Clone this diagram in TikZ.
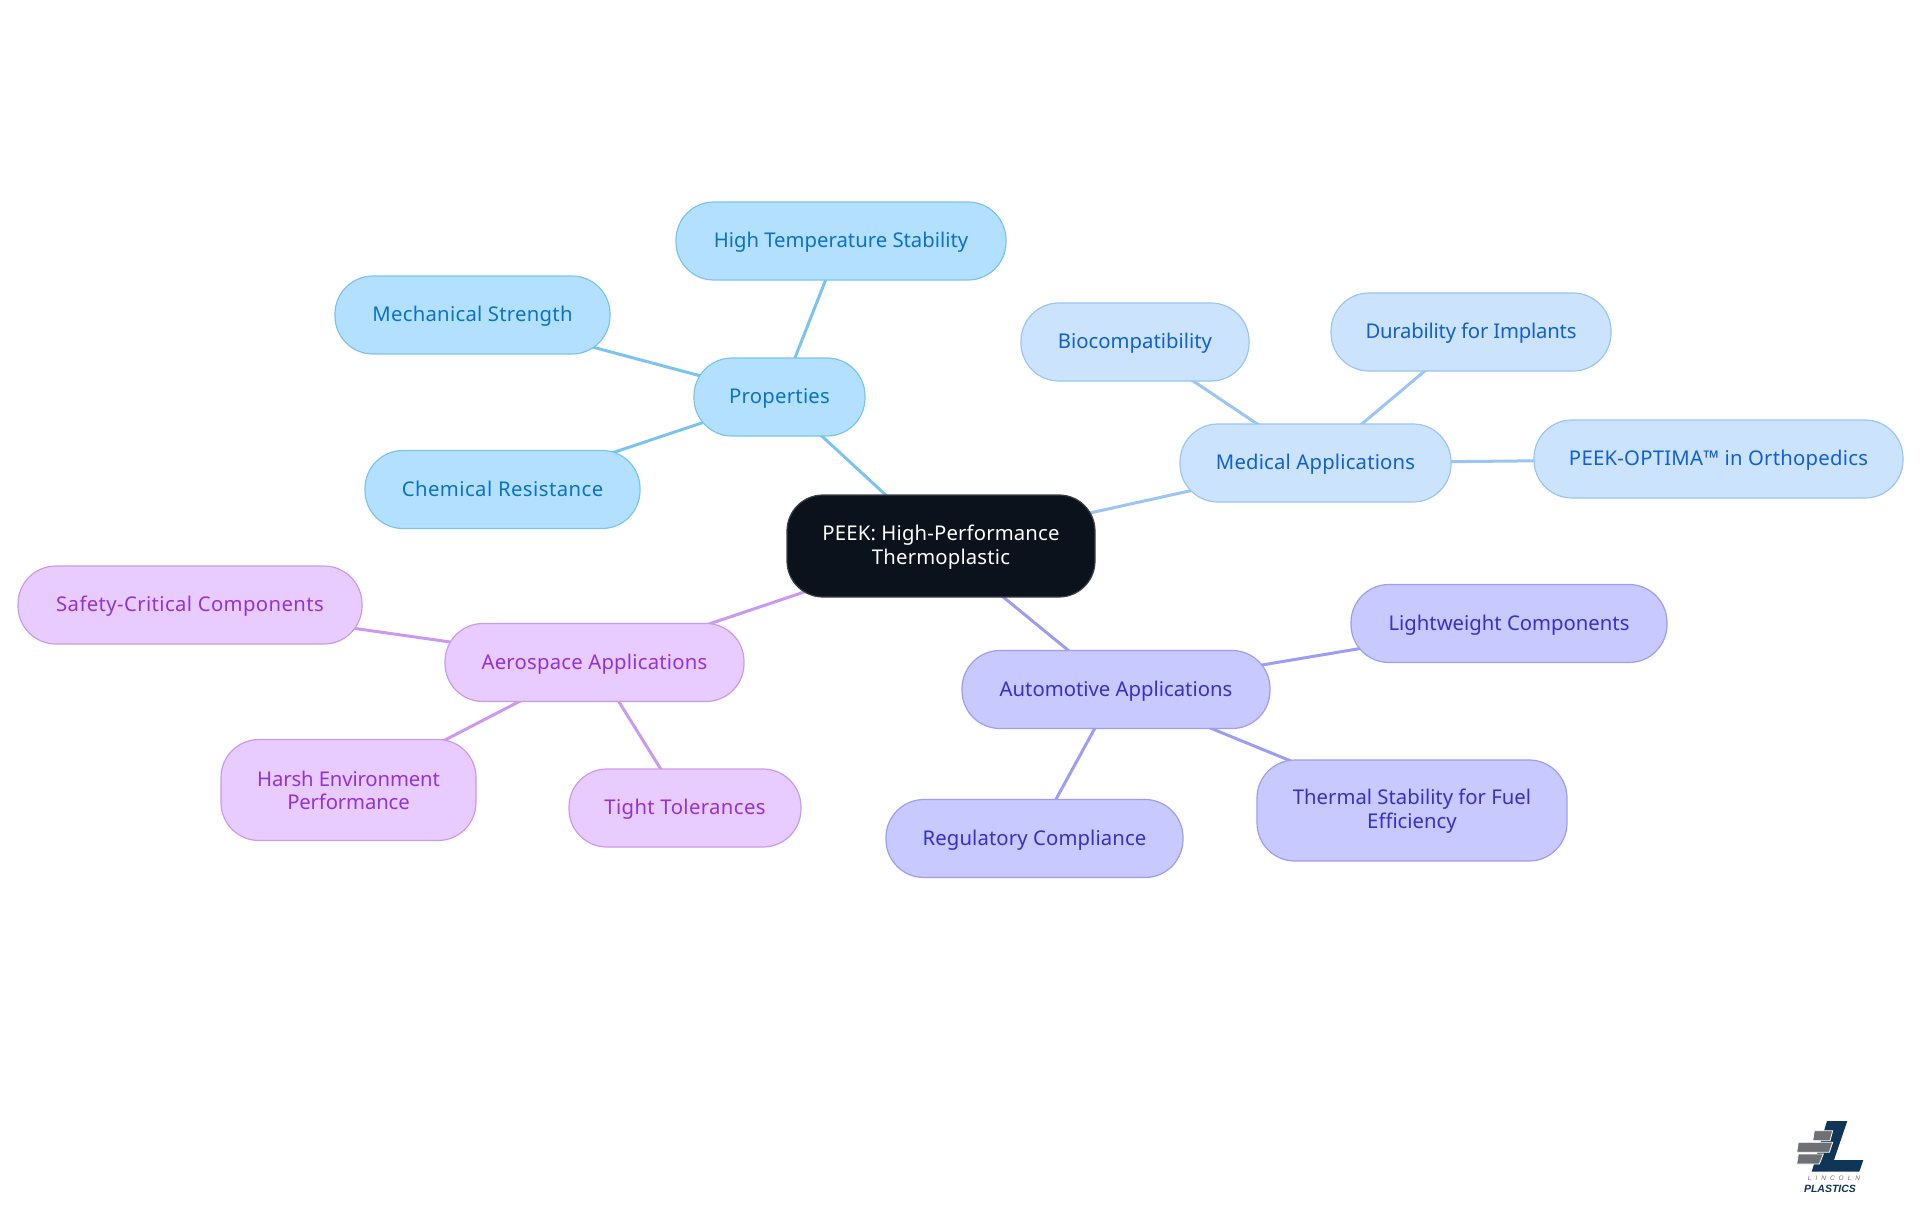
\documentclass[tikz,border=0pt]{standalone}
\usepackage{fontspec}
\setmainfont{Noto Sans}
\newfontfamily\logofont{Liberation Sans}
\usetikzlibrary{backgrounds}
\definecolor{rootfill}{HTML}{0B121B}
\definecolor{rootline}{HTML}{3A4048}
\definecolor{skyfill}{HTML}{B3E0FF}
\definecolor{skyline}{HTML}{7CC4F0}
\definecolor{skytext}{HTML}{0B72C4}
\definecolor{medfill}{HTML}{CCE3FD}
\definecolor{medline}{HTML}{9AC5F4}
\definecolor{medtext}{HTML}{1060D0}
\definecolor{autofill}{HTML}{C7C9FF}
\definecolor{autoline}{HTML}{9D9DF5}
\definecolor{autotext}{HTML}{3730C9}
\definecolor{aerofill}{HTML}{E8CBFF}
\definecolor{aeroline}{HTML}{CC99F0}
\definecolor{aerotext}{HTML}{9333D6}
\definecolor{logonavy}{HTML}{0F3557}
\definecolor{logogray}{HTML}{6E7074}
\newcommand{\firstln}[1]{\rule{0pt}{#1}}
\newcommand{\lsp}[2]{{\addfontfeature{LetterSpace=#1}#2}}
\tikzset{
  x=1pt,y=-1pt,
  mm/.style={rounded corners=38pt,inner sep=0pt,line width=1.2pt,align=center,
    text height=19pt,text depth=6pt,
    font=\fontsize{20.3}{24}\selectfont},
  two/.style={text height=,text depth=},
  sz/.style 2 args={minimum width=#1,minimum height=#2},
  rootbox/.style={mm,fill=rootfill,draw=rootline,text=white,rounded corners=36pt},
  skybox/.style={mm,fill=skyfill,draw=skyline,text=skytext},
  medbox/.style={mm,fill=medfill,draw=medline,text=medtext},
  autobox/.style={mm,fill=autofill,draw=autoline,text=autotext},
  aerobox/.style={mm,fill=aerofill,draw=aeroline,text=aerotext},
  lnk/.style={line width=3pt},
  logobar/.style={fill=logogray,draw=white,line width=.8pt},
}
\begin{document}
\begin{tikzpicture}
\useasboundingbox (0,0) rectangle (1920,1215);
\node[rootbox,two,sz={308pt}{102pt}] (root) at (941,546) {\firstln{18.5pt}\lsp{0.8}{PEEK: High-Performance}\\\lsp{0.8}{Thermoplastic}};
\node[skybox,sz={171pt}{78pt}] (prop) at (779.5,397) {\lsp{1.2}{Properties}};
\node[skybox,sz={330pt}{78pt}] (temp) at (841,241) {High Temperature Stability};
\node[skybox,sz={275pt}{78pt}] (mech) at (472.5,315) {\lsp{1.3}{Mechanical Strength}};
\node[skybox,sz={275pt}{78pt}] (chem) at (502.5,489.5) {\lsp{2.2}{Chemical Resistance}};
\node[medbox,sz={271pt}{78pt}] (med) at (1315.5,463) {\lsp{0.9}{Medical Applications}};
\node[medbox,sz={228pt}{78pt}] (bio) at (1135,342) {Biocompatibility};
\node[medbox,sz={280pt}{78pt}] (dur) at (1471,332) {\lsp{-1.1}{Durability for Implants}};
\node[medbox,sz={369pt}{78pt}] (opt) at (1718.5,459) {\lsp{1.2}{PEEK-OPTIMA™ in Orthopedics}};
\node[autobox,sz={308pt}{78pt}] (auto) at (1116,689.5) {Automotive Applications};
\node[autobox,sz={316pt}{78pt}] (light) at (1509,623.5) {Lightweight Components};
\node[autobox,two,sz={310pt}{101pt}] (therm) at (1412,810.5) {\firstln{17pt}Thermal Stability for Fuel\\Efficiency};
\node[autobox,sz={297pt}{78pt}] (reg) at (1034.5,838.5) {\lsp{0.6}{Regulatory Compliance}};
\node[aerobox,sz={299pt}{78pt}] (aero) at (594.5,662.5) {\lsp{1.1}{Aerospace Applications}};
\node[aerobox,sz={344pt}{78pt}] (safe) at (190,605) {\lsp{1.9}{Safety-Critical Components}};
\node[aerobox,two,sz={255pt}{101pt}] (harsh) at (348.5,790) {\lsp{-0.7}{Harsh Environment}\\[-1pt]\lsp{-0.7}{Performance}};
\node[aerobox,sz={232pt}{78pt}] (tight) at (685,808) {\lsp{1.9}{Tight Tolerances}};
\begin{scope}[on background layer]
\draw[lnk,skyline] (root.center)--(prop.center);
\draw[lnk,skyline] (prop.center)--(temp.center);
\draw[lnk,skyline] (prop.center)--(mech.center);
\draw[lnk,skyline] (prop.center)--(chem.center);
\draw[lnk,medline] (root.center)--(med.center);
\draw[lnk,medline] (med.center)--(bio.center);
\draw[lnk,medline] (med.center)--(dur.center);
\draw[lnk,medline] (med.center)--(opt.center);
\draw[lnk,autoline] (root.center)--(auto.center);
\draw[lnk,autoline] (auto.center)--(light.center);
\draw[lnk,autoline] (auto.center)--(therm.center);
\draw[lnk,autoline] (auto.center)--(reg.center);
\draw[lnk,aeroline] (root.center)--(aero.center);
\draw[lnk,aeroline] (aero.center)--(safe.center);
\draw[lnk,aeroline] (aero.center)--(harsh.center);
\draw[lnk,aeroline] (aero.center)--(tight.center);
\end{scope}
% logo
\fill[logonavy] (1827,1121)--(1847.3,1121)--(1834,1160)--(1863.3,1160)--(1859.3,1171.7)--(1811.7,1171.7)--cycle;
\path[logobar] (1814.3,1130.7)--(1832.7,1130.7)--(1830,1140.7)--(1812.7,1140.7)--cycle;
\path[logobar] (1798.3,1142.3)--(1832.7,1142.3)--(1829.3,1152.3)--(1796.7,1152.3)--cycle;
\path[logobar] (1798.3,1154)--(1823.3,1154)--(1819.3,1164)--(1796.7,1164)--cycle;
\node[inner sep=0pt,text=logogray,font=\logofont\fontsize{6.5}{6.5}\selectfont\itshape] (lincoln) at (1834,1178) {L\hspace{4pt}I\hspace{4pt}N\hspace{4pt}C\hspace{4pt}O\hspace{4pt}L\hspace{4pt}N};
\node[inner sep=0pt,text=logonavy,font=\logofont\fontsize{10.5}{10.5}\selectfont\bfseries\itshape] (plastics) at (1830,1188.5) {PLASTICS};
\end{tikzpicture}
\end{document}
